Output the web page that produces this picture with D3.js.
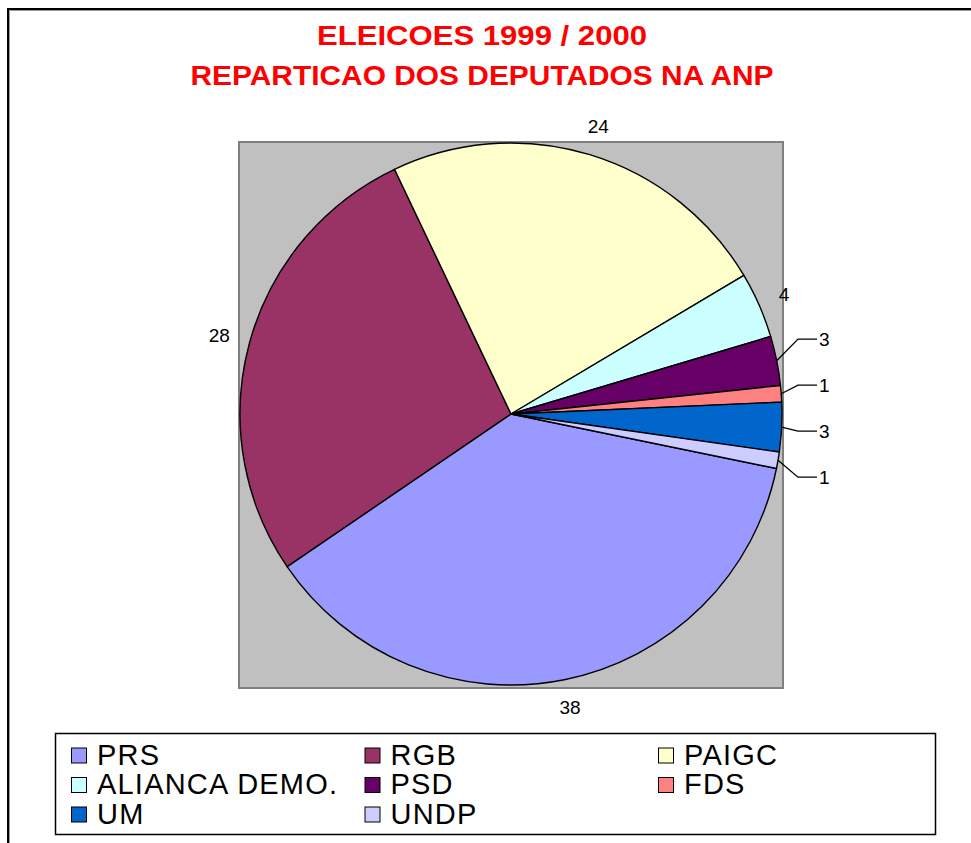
<!DOCTYPE html>
<html>
<head>
<meta charset="utf-8">
<script src="https://cdn.jsdelivr.net/npm/d3@7"></script>
<style>
  html, body { margin: 0; padding: 0; background: #fff; }
  svg { display: block; font-family: Arial, "Liberation Sans", sans-serif; }
</style>
</head>
<body>
<div id="chart"></div>
<script>
// chart data
const titleLines = ["ELEICOES 1999 / 2000", "REPARTICAO DOS DEPUTADOS NA ANP"];
const parties = ["PRS", "RGB", "PAIGC", "ALIANCA DEMO.", "PSD", "FDS", "UM", "UNDP"];
const seats = [38, 28, 24, 4, 3, 1, 3, 1];
const partyColors = ["#9999FF", "#993366", "#FFFFCC", "#CCFFFF", "#660066", "#FF8080", "#0066CC", "#CCCCFF"];
const firstSliceAngle = 101.6; // degrees, clockwise from 12 o'clock

const W = 971, H = 843;
const svg = d3.select("#chart").append("svg")
    .attr("width", W)
    .attr("height", H);

// outer chart frame (runs off the right / bottom edge)
svg.append("rect")
    .attr("x", 8).attr("y", 9)
    .attr("width", W + 20).attr("height", H + 20)
    .attr("fill", "#fff")
    .attr("stroke", "#000")
    .attr("stroke-width", 2);
svg.append("path")
    .attr("d", `M9.5,${H + 5}V10.5H${W + 5}`)
    .attr("fill", "none")
    .attr("stroke", "#9a9a9a")
    .attr("stroke-width", 1);

// title
const titleWidths = [330, 583];
const titleBase = [45, 85];
svg.append("g").selectAll("text")
    .data(titleLines)
    .join("text")
    .attr("x", 482)
    .attr("y", (d, i) => titleBase[i])
    .attr("text-anchor", "middle")
    .attr("fill", "#FF0000")
    .attr("font-weight", "bold")
    .attr("font-size", "27px")
    .attr("textLength", (d, i) => titleWidths[i])
    .attr("lengthAdjust", "spacingAndGlyphs")
    .text(d => d);

// plot area
const plot = { x0: 239, y0: 142, x1: 783, y1: 688 };
svg.append("rect")
    .attr("x", plot.x0).attr("y", plot.y0)
    .attr("width", plot.x1 - plot.x0)
    .attr("height", plot.y1 - plot.y0)
    .attr("fill", "#C0C0C0")
    .attr("stroke", "#808080")
    .attr("stroke-width", 2);

const cx = (plot.x0 + plot.x1) / 2;
const cy = 414;
const r = 271;

const data = parties.map((p, i) => ({ party: p, value: seats[i], color: partyColors[i] }));

const a0 = firstSliceAngle * Math.PI / 180;
const pie = d3.pie()
    .sort(null)
    .value(d => d.value)
    .startAngle(a0)
    .endAngle(a0 + 2 * Math.PI);
const arcs = pie(data);

const arc = d3.arc().innerRadius(0).outerRadius(r);

const g = svg.append("g").attr("transform", `translate(${cx},${cy})`);

g.selectAll("path")
    .data(arcs)
    .join("path")
    .attr("d", arc)
    .attr("fill", d => d.data.color)
    .attr("stroke", "#000")
    .attr("stroke-width", 1.4)
    .attr("stroke-linejoin", "round");

// data labels
const labelSize = 19;
const labels = arcs.map(d => {
    const mid = (d.startAngle + d.endAngle) / 2;
    return { d, mid, small: d.data.value <= 3 };
});

// big slices: label just outside the rim along the mid angle
const labelG = svg.append("g")
    .attr("font-size", labelSize + "px")
    .attr("fill", "#000");

labels.filter(l => !l.small).forEach(l => {
    const t = labelG.append("text")
        .attr("text-anchor", "middle")
        .attr("dominant-baseline", "central")
        .text(l.d.data.value);
    const bb = t.node().getBBox();
    const s = Math.sin(l.mid), c = Math.cos(l.mid);
    const rl = r + 19 + Math.abs(s) * bb.width / 2 + Math.abs(c) * bb.height / 2 * 0.75;
    t.attr("x", cx + rl * s).attr("y", cy - rl * c);
});

// small slices: labels stacked on the right with leader lines
const small = labels.filter(l => l.small);
const gap = 46;
small.forEach(l => {
    l.sx = cx + r * Math.sin(l.mid);
    l.sy = cy - r * Math.cos(l.mid);
    l.y = cy - (r + 26) * Math.cos(l.mid);
});
small.sort((a, b) => a.y - b.y);
for (let it = 0; it < 200; it++) {
    for (let i = 1; i < small.length; i++) {
        const dy = small[i].y - small[i - 1].y;
        if (dy < gap) {
            const push = (gap - dy) / 2;
            small[i].y += push;
            small[i - 1].y -= push;
        }
    }
}
const shiftUp = 2;
small.forEach(l => { l.y -= shiftUp; });

const elbowX = cx + r + 16;
const endX = cx + r + 35;
small.forEach(l => {
    labelG.append("path")
        .attr("d", `M${l.sx},${l.sy}L${elbowX},${l.y}H${endX}`)
        .attr("fill", "none")
        .attr("stroke", "#000")
        .attr("stroke-width", 1.3);
    labelG.append("text")
        .attr("x", endX + 2)
        .attr("y", l.y)
        .attr("dominant-baseline", "central")
        .text(l.d.data.value);
});

// legend
const legend = { x0: 55.5, y0: 733.5, x1: 935.5, y1: 834.5 };
svg.append("rect")
    .attr("x", legend.x0).attr("y", legend.y0)
    .attr("width", legend.x1 - legend.x0)
    .attr("height", legend.y1 - legend.y0)
    .attr("fill", "#fff")
    .attr("stroke", "#000")
    .attr("stroke-width", 1.5);

const colX = [71, 364.5, 658];
const rowY = [755.5, 785, 814.5];
const sw = 15;

const item = svg.append("g").selectAll("g")
    .data(data)
    .join("g")
    .attr("transform", (d, i) => `translate(${colX[i % 3]},${rowY[Math.floor(i / 3)]})`);

item.append("rect")
    .attr("x", 0.5)
    .attr("y", -sw / 2)
    .attr("width", sw)
    .attr("height", sw)
    .attr("fill", d => d.color)
    .attr("stroke", "#000")
    .attr("stroke-width", 1);

item.append("text")
    .attr("x", 26)
    .attr("y", 9)
    .attr("font-size", "29px")
    .attr("letter-spacing", "1.2px")
    .attr("fill", "#000")
    .text(d => d.party);
</script>
</body>
</html>
